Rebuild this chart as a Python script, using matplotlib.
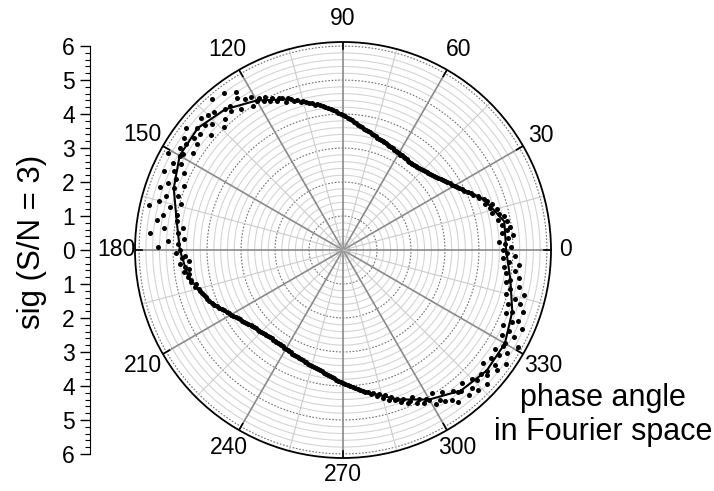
import numpy as np
import matplotlib.pyplot as plt
from matplotlib.ticker import MultipleLocator

plt.rcParams['font.family'] = ['Liberation Sans', 'DejaVu Sans']

# fitted curve, read every 10 degrees
fit_angle = [0, 10, 20, 30, 40, 50, 60, 70, 80, 90, 100, 110, 120, 130, 140, 150, 160, 170,
             180, 190, 200, 210, 220, 230, 240, 250, 260, 270, 280, 290, 300, 310, 320, 330,
             340, 350, 360]
fit_sig = [4.80, 4.82, 4.40, 3.80, 3.42, 3.25, 3.28, 3.40, 3.62, 3.97, 4.35, 4.72, 5.08, 5.40,
           5.58, 5.55, 5.30, 4.97, 4.80, 4.62, 4.25, 3.80, 3.48, 3.35, 3.35, 3.45, 3.62, 3.91,
           4.25, 4.68, 5.08, 5.40, 5.52, 5.50, 5.30, 5.00, 4.80]

# measured points, one per degree of phase
phase = np.arange(0, 360)
sig = [
    4.72, 4.95, 4.78, 4.60, 4.88, 5.02, 4.70, 4.85, 4.96, 4.74,
    4.90, 4.66, 4.85, 4.70, 4.52, 4.68, 4.49, 4.58, 4.40, 4.47,
    4.42, 4.30, 4.28, 4.16, 4.12, 4.05, 3.96, 3.93, 3.86, 3.83,
    3.79, 3.74, 3.70, 3.66, 3.62, 3.58, 3.55, 3.51, 3.48, 3.45,
    3.42, 3.40, 3.38, 3.36, 3.34, 3.32, 3.30, 3.29, 3.27, 3.26,
    3.25, 3.24, 3.26, 3.24, 3.25, 3.27, 3.26, 3.27, 3.28, 3.27,
    3.28, 3.29, 3.31, 3.30, 3.33, 3.34, 3.35, 3.37, 3.38, 3.39,
    3.40, 3.42, 3.44, 3.46, 3.48, 3.50, 3.53, 3.55, 3.58, 3.60,
    3.62, 3.65, 3.69, 3.72, 3.76, 3.79, 3.83, 3.86, 3.90, 3.93,
    3.97, 4.01, 4.04, 4.09, 4.12, 4.17, 4.20, 4.24, 4.28, 4.31,
    4.35, 4.36, 4.42, 4.45, 4.48, 4.55, 4.52, 4.63, 4.62, 4.70,
    4.75, 4.66, 4.82, 4.85, 4.80, 4.95, 4.88, 5.05, 4.96, 5.10,
    5.05, 5.25, 4.98, 5.30, 5.62, 5.45, 5.12, 5.80, 5.38, 5.25,
    5.40, 5.88, 5.20, 5.55, 5.05, 5.62, 5.35, 5.70, 5.48, 5.15,
    5.60, 5.42, 5.85, 5.50, 5.30, 5.72, 5.58, 5.25, 5.66, 5.50,
    5.55, 5.90, 5.40, 5.62, 5.20, 5.48, 5.75, 5.35, 5.05, 5.52,
    5.30, 5.70, 5.10, 5.45, 4.95, 5.60, 5.25, 5.85, 5.00, 5.40,
    4.97, 5.55, 4.75, 5.30, 4.88, 5.70, 4.70, 5.15, 4.85, 5.45,
    4.80, 4.90, 4.65, 4.75, 4.55, 4.82, 4.68, 4.58, 4.72, 4.60,
    4.62, 4.55, 4.58, 4.45, 4.50, 4.40, 4.38, 4.33, 4.30, 4.27,
    4.25, 4.22, 4.15, 4.12, 4.06, 4.02, 3.96, 3.92, 3.87, 3.84,
    3.80, 3.76, 3.72, 3.69, 3.65, 3.62, 3.59, 3.56, 3.53, 3.50,
    3.48, 3.46, 3.45, 3.43, 3.42, 3.40, 3.39, 3.38, 3.37, 3.36,
    3.35, 3.34, 3.35, 3.34, 3.33, 3.34, 3.34, 3.35, 3.34, 3.35,
    3.35, 3.36, 3.37, 3.38, 3.39, 3.40, 3.41, 3.42, 3.43, 3.44,
    3.45, 3.47, 3.48, 3.50, 3.52, 3.53, 3.55, 3.57, 3.59, 3.60,
    3.62, 3.65, 3.68, 3.70, 3.73, 3.76, 3.79, 3.82, 3.85, 3.88,
    3.91, 3.94, 3.98, 4.01, 4.05, 4.08, 4.12, 4.15, 4.18, 4.22,
    4.25, 4.32, 4.30, 4.40, 4.38, 4.50, 4.45, 4.60, 4.55, 4.68,
    4.68, 4.80, 4.72, 4.90, 4.85, 4.78, 5.00, 4.92, 5.10, 5.02,
    5.08, 5.30, 4.95, 5.25, 5.35, 5.10, 5.45, 5.60, 5.28, 5.38,
    5.40, 5.65, 5.25, 5.55, 5.72, 5.35, 5.50, 5.80, 5.45, 5.60,
    5.52, 5.30, 5.75, 5.60, 5.40, 5.85, 5.55, 5.35, 5.70, 5.48,
    5.50, 5.90, 5.30, 5.65, 5.45, 5.20, 5.75, 5.40, 5.55, 5.15,
    5.30, 5.60, 5.10, 5.45, 5.25, 4.95, 5.50, 5.05, 5.30, 4.90,
    5.00, 5.25, 4.85, 5.10, 4.75, 5.20, 4.90, 4.70, 5.05, 4.82,
]

angle_ticks = [0, 30, 60, 90, 120, 150, 180, 210, 240, 270, 300, 330]
left_ticks = [-6, -5, -4, -3, -2, -1, 0, 1, 2, 3, 4, 5, 6]
left_labels = ['6', '5', '4', '3', '2', '1', '0', '1', '2', '3', '4', '5', '6']

W, H = 714, 491
cx, cy, R = 343, 250, 208
rmax = 6.12

fig = plt.figure(figsize=(W / 100, H / 100), dpi=100)
ax = fig.add_axes([(cx - R) / W, (H - cy - R) / H, 2 * R / W, 2 * R / H], projection='polar')
ax.set_ylim(0, rmax)
ax.grid(False)
ax.set_xticks([])
ax.set_yticks([])
ax.spines['polar'].set_linewidth(1.3)

ring = np.linspace(0, 2 * np.pi, 500)
for r in np.arange(0.2, 6.01, 0.2):
    if abs(r - round(r)) < 1e-6:
        ax.plot(ring, np.full_like(ring, r), color='#707070', lw=0.8,
                ls=(0, (1.5, 1.5)), zorder=1)
    else:
        ax.plot(ring, np.full_like(ring, r), color='#d4d4d4', lw=0.8, zorder=1)

for a in range(0, 360, 15):
    t = np.deg2rad(a)
    if a % 30 == 0:
        ax.plot([t, t], [0, rmax], color='#8a8a8a', lw=1.2, zorder=1)
        ax.plot([t, t], [rmax - 0.22, rmax], color='black', lw=1.2, zorder=2)
    else:
        ax.plot([t, t], [0, rmax], color='#cccccc', lw=0.8, zorder=1)

label_r = {0: 6.55, 30: 6.72, 180: 6.68, 270: 6.62, 240: 6.72, 300: 6.72}
for a in angle_ticks:
    ax.text(np.deg2rad(a), label_r.get(a, 6.8), str(a), ha='center', va='center',
            fontsize=16.5, clip_on=False)

ax.plot(np.deg2rad(phase), sig, 'o', color='black', ms=3.6, mew=0, zorder=3)
ax.plot(np.deg2rad(fit_angle), fit_sig, color='black', lw=1.5, zorder=4)

# vertical scale on the left
lax = fig.add_axes([90 / W, (H - cy - R) / H, 0.001, 2 * R / H])
lax.set_ylim(-rmax, rmax)
lax.patch.set_visible(False)
for s in ['top', 'right', 'bottom']:
    lax.spines[s].set_visible(False)
lax.spines['left'].set_bounds(-6, 6)
lax.set_xticks([])
lax.set_yticks(left_ticks)
lax.set_yticklabels(left_labels)
lax.yaxis.set_minor_locator(MultipleLocator(0.2))
lax.tick_params(which='major', length=7, width=1, labelsize=16.5, pad=4)
lax.tick_params(which='minor', length=3.5, width=0.8)

fig.text(32 / W, 1 - 242 / H, 'sig (S/N = 3)', rotation=90, fontsize=22.5,
         ha='center', va='center')
fig.text(603 / W, 1 - 415 / H, 'phase angle\nin Fourier space', fontsize=22,
         ha='center', va='center', linespacing=1.15)

fig.savefig('out.png', dpi=100)
